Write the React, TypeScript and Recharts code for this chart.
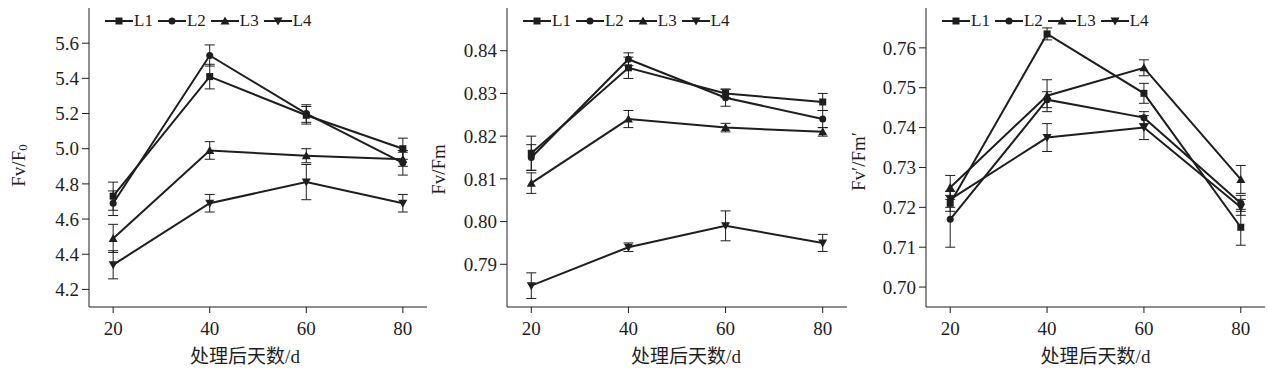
import React from "react"
import { LineChart, Line, XAxis, YAxis, ErrorBar } from "recharts"

// days after treatment
const days = [20, 40, 60, 80]
const seriesNames = ["L1", "L2", "L3", "L4"]

// Fv/F0
const fvf0L1 = [4.73, 5.41, 5.19, 5.0]
const fvf0L2 = [4.69, 5.53, 5.2, 4.92]
const fvf0L3 = [4.49, 4.99, 4.96, 4.94]
const fvf0L4 = [4.34, 4.69, 4.81, 4.69]
const fvf0ErrL1 = [0.08, 0.07, 0.05, 0.06]
const fvf0ErrL2 = [0.07, 0.06, 0.05, 0.07]
const fvf0ErrL3 = [0.08, 0.05, 0.04, 0.04]
const fvf0ErrL4 = [0.08, 0.05, 0.1, 0.05]
const fvf0Ticks = [4.2, 4.4, 4.6, 4.8, 5.0, 5.2, 5.4, 5.6]

// Fv/Fm
const fvfmL1 = [0.816, 0.836, 0.83, 0.828]
const fvfmL2 = [0.815, 0.838, 0.829, 0.824]
const fvfmL3 = [0.809, 0.824, 0.822, 0.821]
const fvfmL4 = [0.785, 0.794, 0.799, 0.795]
const fvfmErrL1 = [0.004, 0.0025, 0.001, 0.002]
const fvfmErrL2 = [0.003, 0.0015, 0.002, 0.002]
const fvfmErrL3 = [0.0024, 0.002, 0.001, 0.001]
const fvfmErrL4 = [0.003, 0.001, 0.0035, 0.002]
const fvfmTicks = [0.79, 0.8, 0.81, 0.82, 0.83, 0.84]

// Fv'/Fm'
const fvpL1 = [0.721, 0.7635, 0.7486, 0.715]
const fvpL2 = [0.717, 0.747, 0.7425, 0.721]
const fvpL3 = [0.725, 0.748, 0.755, 0.727]
const fvpL4 = [0.722, 0.7375, 0.74, 0.72]
const fvpErrL1 = [0.002, 0.0015, 0.0025, 0.0045]
const fvpErrL2 = [0.007, 0.002, 0.0015, 0.002]
const fvpErrL3 = [0.003, 0.004, 0.002, 0.0035]
const fvpErrL4 = [0.002, 0.0035, 0.003, 0.002]
const fvpTicks = [0.7, 0.71, 0.72, 0.73, 0.74, 0.75, 0.76]

const FONT = '"Liberation Serif", "Noto Sans CJK SC", serif'
const INK = "#1e1e1e"
const shapes = ["square", "circle", "triangle", "down"]

function buildRows(values: number[][], errs: number[][]) {
  return days.map((day, i) => {
    const row: Record<string, number> = { day }
    seriesNames.forEach((name, s) => {
      row[name] = values[s][i]
      row[name + "e"] = errs[s][i]
    })
    return row
  })
}

function Marker({ cx, cy, shape }: { cx: number; cy: number; shape: string }) {
  if (shape === "square") return <rect x={cx - 3.5} y={cy - 3.5} width={7} height={7} fill={INK} />
  if (shape === "circle") return <circle cx={cx} cy={cy} r={3.5} fill={INK} />
  if (shape === "triangle")
    return <polygon points={`${cx},${cy - 4.5} ${cx + 4.5},${cy + 3.5} ${cx - 4.5},${cy + 3.5}`} fill={INK} />
  return <polygon points={`${cx},${cy + 4.5} ${cx + 4.5},${cy - 3.5} ${cx - 4.5},${cy - 3.5}`} fill={INK} />
}

function LegendRow() {
  return (
    <div style={{ display: "flex", alignItems: "center", fontFamily: FONT, fontSize: 17, color: INK }}>
      {seriesNames.map((name, i) => (
        <div key={name} style={{ display: "flex", alignItems: "center", marginRight: 5 }}>
          <svg width={28} height={12}>
            <line x1={0} y1={6} x2={28} y2={6} stroke={INK} strokeWidth={2} />
            <Marker cx={14} cy={6} shape={shapes[i]} />
          </svg>
          <span style={{ marginLeft: 1 }}>{name}</span>
        </div>
      ))}
    </div>
  )
}

type PanelProps = {
  left: number
  width: number
  axisWidth: number
  rows: Record<string, number>[]
  domain: [number, number]
  ticks: number[]
  digits: number
  yLabel: React.ReactNode
  labelDy: number
  xLabelDx: number
}

function Panel({ left, width, axisWidth, rows, domain, ticks, digits, yLabel, labelDy, xLabelDx }: PanelProps) {
  const tickStyle = { fontSize: 19, fill: INK, fontFamily: FONT }
  return (
    <div style={{ position: "absolute", left, top: 0, width, height: 373 }}>
      <LineChart width={width} height={373} data={rows} margin={{ top: 8, right: 3, bottom: 4, left: 0 }}>
        <XAxis
          dataKey="day"
          type="number"
          domain={[15, 85]}
          ticks={days}
          height={62}
          tickSize={6}
          tickMargin={9}
          tick={tickStyle}
          stroke={INK}
          label={{
            value: "处理后天数/d",
            position: "insideBottom",
            offset: 6,
            dx: xLabelDx,
            style: { fontSize: 19, fill: INK, fontFamily: FONT },
          }}
        />
        <YAxis
          type="number"
          domain={domain}
          ticks={ticks}
          allowDataOverflow
          width={axisWidth}
          tickSize={7}
          tickMargin={3}
          tick={tickStyle}
          stroke={INK}
          tickFormatter={(v: number) => v.toFixed(digits)}
          label={{
            content: (props: any) => {
              const vb = props.viewBox || { x: 0, y: 0, height: 0 }
              const x = vb.x + 18
              const y = vb.y + vb.height / 2 + labelDy
              return (
                <text
                  x={x}
                  y={y}
                  transform={`rotate(-90, ${x}, ${y})`}
                  textAnchor="middle"
                  dominantBaseline="central"
                  fontSize={19}
                  fill={INK}
                  fontFamily={FONT}
                >
                  {yLabel}
                </text>
              )
            },
          }}
        />
        {seriesNames.map((name, i) => (
          <Line
            key={name}
            dataKey={name}
            stroke={INK}
            strokeWidth={2}
            isAnimationActive={false}
            dot={(p: any) => <Marker key={p.index} cx={p.cx} cy={p.cy} shape={shapes[i]} />}
          >
            <ErrorBar dataKey={name + "e"} width={5} stroke={INK} strokeWidth={1} direction="y" />
          </Line>
        ))}
      </LineChart>
      <div style={{ position: "absolute", top: 11, left: axisWidth + 16 }}>
        <LegendRow />
      </div>
    </div>
  )
}

export default function App() {
  const rows1 = buildRows([fvf0L1, fvf0L2, fvf0L3, fvf0L4], [fvf0ErrL1, fvf0ErrL2, fvf0ErrL3, fvf0ErrL4])
  const rows2 = buildRows([fvfmL1, fvfmL2, fvfmL3, fvfmL4], [fvfmErrL1, fvfmErrL2, fvfmErrL3, fvfmErrL4])
  const rows3 = buildRows([fvpL1, fvpL2, fvpL3, fvpL4], [fvpErrL1, fvpErrL2, fvpErrL3, fvpErrL4])
  return (
    <div style={{ position: "absolute", left: 0, top: 0, width: 1268, height: 373, background: "#fff" }}>
      <Panel
        left={0}
        width={430}
        axisWidth={89}
        rows={rows1}
        domain={[4.1, 5.8]}
        ticks={fvf0Ticks}
        digits={1}
        labelDy={8}
        xLabelDx={-13}
        yLabel={
          <>
            Fv/F
            <tspan fontSize={13} dy={4}>
              0
            </tspan>
          </>
        }
      />
      <Panel
        left={420}
        width={430}
        axisWidth={87}
        rows={rows2}
        domain={[0.78, 0.85]}
        ticks={fvfmTicks}
        digits={2}
        labelDy={12}
        xLabelDx={9}
        yLabel="Fv/Fm"
      />
      <Panel
        left={840}
        width={428}
        axisWidth={86}
        rows={rows3}
        domain={[0.695, 0.77]}
        ticks={fvpTicks}
        digits={2}
        labelDy={4}
        xLabelDx={0}
        yLabel="Fv′/Fm′"
      />
    </div>
  )
}
